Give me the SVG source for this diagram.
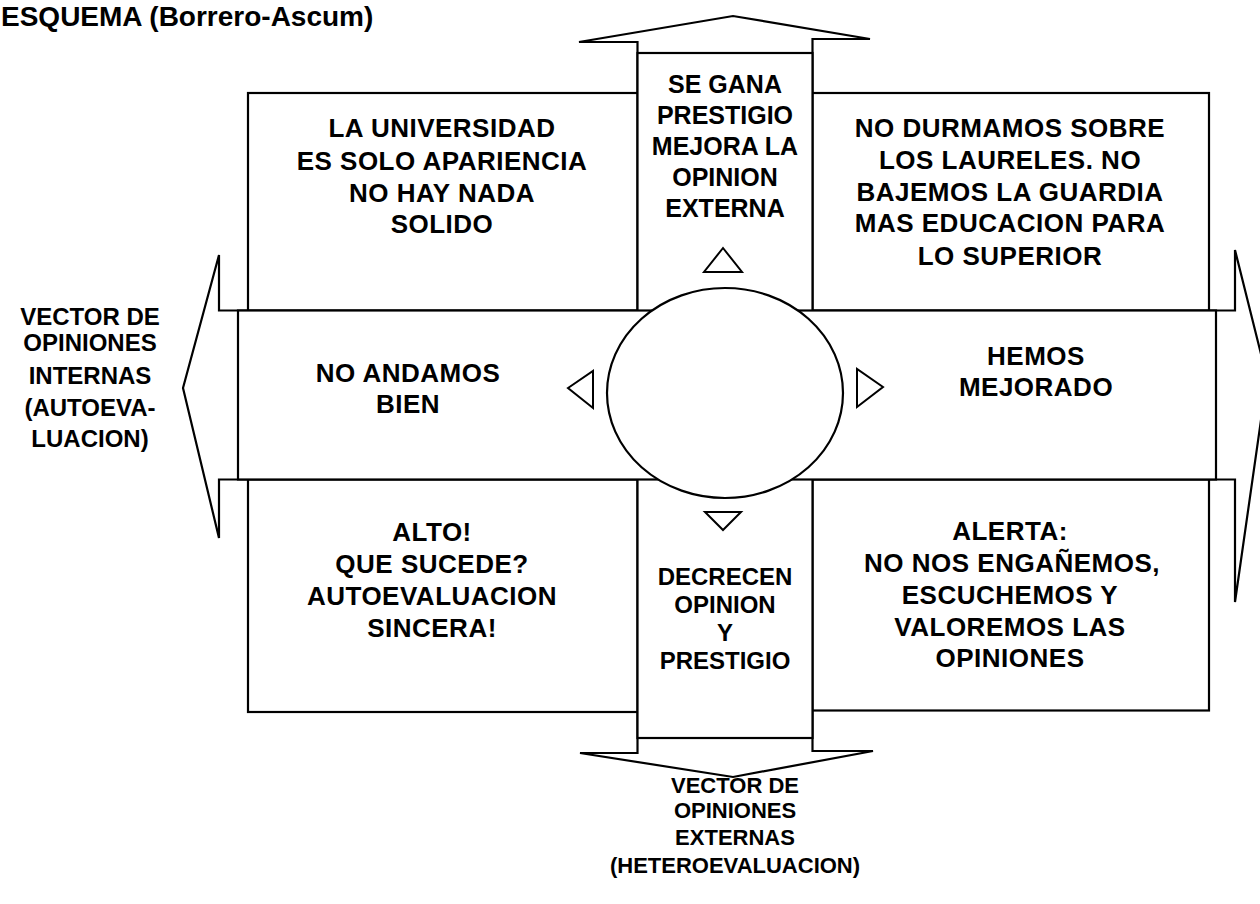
<svg xmlns="http://www.w3.org/2000/svg" width="1260" height="904" viewBox="0 0 1260 904">
<style>
.s{fill:#fff;stroke:#000;stroke-width:2.2;stroke-linejoin:miter}
.t{font-family:"Liberation Sans",Arial,Helvetica,sans-serif;font-weight:bold;fill:#000;text-anchor:middle}
.b{font-size:26px;letter-spacing:0.5px}
.c{font-size:25px}
.d{font-size:24px}
.l{font-size:24px}
.e{font-size:22px}
</style>
<rect width="1260" height="904" fill="#fff"/>
<g id="title"><text class="t" x="1" y="26" style="font-size:28px;text-anchor:start">ESQUEMA (Borrero-Ascum)</text></g>
<g id="connectors">
<polygon id="arrow-up" class="s" points="637.5,100 637.5,42 579,42 733,16 870,39 812.5,39 812.5,100"/>
<polygon id="arrow-down" class="s" points="637.5,700 637.5,753 580,753 733,777 873,751 812.5,751 812.5,700"/>
<polygon id="arrow-left" class="s" points="260,310.5 219,310.5 219,255 183,388 219,538 219,479.5 260,479.5"/>
<polygon id="arrow-right" class="s" points="1190,310.5 1235,310.5 1235,250 1267,378 1235,602 1235,479.5 1190,479.5"/>
</g>
<g id="box-tl"><rect class="s" x="248" y="93" width="389.5" height="217.5"/>
<text class="t b" x="442" y="137">LA UNIVERSIDAD</text>
<text class="t b" x="442" y="170">ES SOLO APARIENCIA</text>
<text class="t b" x="442" y="202">NO HAY NADA</text>
<text class="t b" x="442" y="233">SOLIDO</text></g>
<g id="box-tr"><rect class="s" x="812.5" y="93" width="396.5" height="217.5"/>
<text class="t b" x="1010" y="137">NO DURMAMOS SOBRE</text>
<text class="t b" x="1010" y="169">LOS LAURELES. NO</text>
<text class="t b" x="1010" y="201">BAJEMOS LA GUARDIA</text>
<text class="t b" x="1010" y="232">MAS EDUCACION PARA</text>
<text class="t b" x="1010" y="265">LO SUPERIOR</text></g>
<g id="box-bl"><rect class="s" x="248" y="479.5" width="389.5" height="232.5"/>
<text class="t b" x="432" y="541">ALTO!</text>
<text class="t b" x="432" y="573">QUE SUCEDE?</text>
<text class="t b" x="432" y="605">AUTOEVALUACION</text>
<text class="t b" x="432" y="637">SINCERA!</text></g>
<g id="box-br"><rect class="s" x="812.5" y="479.5" width="396.5" height="231"/>
<text class="t b" x="1010" y="540">ALERTA:</text>
<text class="t b" x="1012" y="572">NO NOS ENGAÑEMOS,</text>
<text class="t b" x="1010" y="604">ESCUCHEMOS Y</text>
<text class="t b" x="1010" y="636">VALOREMOS LAS</text>
<text class="t b" x="1010" y="667">OPINIONES</text></g>
<g id="band-vertical"><rect class="s" x="637.5" y="53" width="175" height="685"/>
<text class="t c" x="725" y="93">SE GANA</text>
<text class="t c" x="725" y="124">PRESTIGIO</text>
<text class="t c" x="725" y="155">MEJORA LA</text>
<text class="t c" x="725" y="186">OPINION</text>
<text class="t c" x="725" y="217">EXTERNA</text>
<polygon class="s" points="723,248 704,272 742,272" style="stroke-width:2"/>
<polygon class="s" points="705,512 741,512 723,530" style="stroke-width:2"/>
<text class="t d" x="725" y="585">DECRECEN</text>
<text class="t d" x="725" y="613">OPINION</text>
<text class="t d" x="725" y="641">Y</text>
<text class="t d" x="725" y="669">PRESTIGIO</text></g>
<g id="band-horizontal"><rect class="s" x="238" y="310.5" width="978" height="169"/>
<text class="t b" x="408" y="382">NO ANDAMOS</text>
<text class="t b" x="408" y="413">BIEN</text>
<polygon class="s" points="568,388 593,371 593,408" style="stroke-width:2"/>
<polygon class="s" points="857,369 857,407 883,387" style="stroke-width:2"/>
<text class="t b" x="1036" y="365">HEMOS</text>
<text class="t b" x="1036" y="396">MEJORADO</text></g>
<g id="center"><ellipse class="s" cx="725" cy="393" rx="118" ry="105"/></g>
<g id="label-internal">
<text class="t l" x="90" y="325">VECTOR DE</text>
<text class="t l" x="90" y="351">OPINIONES</text>
<text class="t l" x="90" y="384">INTERNAS</text>
<text class="t l" x="90" y="416">(AUTOEVA-</text>
<text class="t l" x="90" y="447">LUACION)</text></g>
<g id="label-external">
<text class="t e" x="735" y="793">VECTOR DE</text>
<text class="t e" x="735" y="818">OPINIONES</text>
<text class="t e" x="735" y="845">EXTERNAS</text>
<text class="t e" x="735" y="873">(HETEROEVALUACION)</text></g>
</svg>
